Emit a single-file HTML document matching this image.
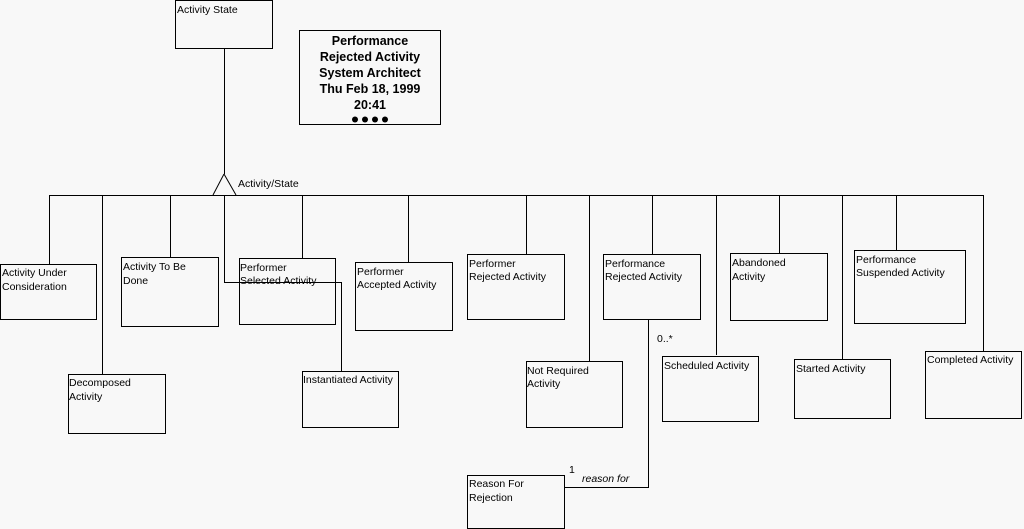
<!DOCTYPE html>
<html><head><meta charset="utf-8"><style>
html,body{margin:0;padding:0;background:#f8f8f8;}
svg{display:block}
text{font-family:"Liberation Sans",sans-serif;font-size:10.5px;fill:#000}
.b{font-weight:bold;font-size:12.5px}
</style></head><body>
<svg width="1024" height="529" viewBox="0 0 1024 529" xmlns="http://www.w3.org/2000/svg">
<g fill="none" stroke="#000" stroke-width="1" shape-rendering="crispEdges">
<rect x="175.5" y="0.5" width="97" height="48"/>
<rect x="299.5" y="30.5" width="141" height="94"/>
<rect x="0.5" y="264.5" width="96" height="55"/>
<rect x="68.5" y="374.5" width="97" height="59"/>
<rect x="121.5" y="257.5" width="97" height="69"/>
<rect x="239.5" y="258.5" width="96" height="66"/>
<rect x="302.5" y="371.5" width="96" height="56"/>
<rect x="355.5" y="262.5" width="97" height="68"/>
<rect x="467.5" y="254.5" width="97" height="65"/>
<rect x="526.5" y="361.5" width="96" height="66"/>
<rect x="603.5" y="254.5" width="97" height="65"/>
<rect x="662.5" y="356.5" width="96" height="65"/>
<rect x="730.5" y="253.5" width="97" height="67"/>
<rect x="794.5" y="359.5" width="96" height="59"/>
<rect x="854.5" y="250.5" width="111" height="73"/>
<rect x="925.5" y="351.5" width="96" height="67"/>
<rect x="467.5" y="475.5" width="97" height="53"/>
<path d="M224.5 48v126M49.5 195.5H983.5M49.5 195v69M102.5 195v179M170.5 195v62M224.5 195v87.5H341.5V371M302.5 195v63M408.5 195v67M526.5 195v59M589.5 195v166M652.5 195v59M716.5 195v160M779.5 195v58M842.5 195v164M896.5 195v55M983.5 195v156M648.5 319v168.5H564"/>
</g>
<path d="M224 174L213 195M224 174L236 195" stroke="#000" fill="none"/>
<text class="b" x="370" y="45" text-anchor="middle">Performance</text>
<text class="b" x="370" y="61" text-anchor="middle">Rejected Activity</text>
<text class="b" x="370" y="77" text-anchor="middle">System Architect</text>
<text class="b" x="370" y="93" text-anchor="middle">Thu Feb 18, 1999</text>
<text class="b" x="370" y="109" text-anchor="middle">20:41</text>
<g fill="#000"><circle cx="355" cy="119.5" r="3"/><circle cx="365" cy="119.5" r="3"/><circle cx="375" cy="119.5" r="3"/><circle cx="385" cy="119.5" r="3"/></g>
<text x="177" y="13">Activity State</text>
<text x="238" y="187">Activity/State</text>
<text x="2" y="276">Activity Under</text><text x="2" y="290">Consideration</text>
<text x="69" y="386">Decomposed</text><text x="69" y="400">Activity</text>
<text x="123" y="270">Activity To Be</text><text x="123" y="284">Done</text>
<text x="240" y="271">Performer</text><text x="240" y="284">Selected Activity</text>
<text x="303" y="383">Instantiated Activity</text>
<text x="357" y="275">Performer</text><text x="357" y="288">Accepted Activity</text>
<text x="469" y="267">Performer</text><text x="469" y="280">Rejected Activity</text>
<text x="527" y="374">Not Required</text><text x="527" y="387">Activity</text>
<text x="605" y="267">Performance</text><text x="605" y="280">Rejected Activity</text>
<text x="664" y="369">Scheduled Activity</text>
<text x="732" y="266">Abandoned</text><text x="732" y="280">Activity</text>
<text x="796" y="372">Started Activity</text>
<text x="856" y="263">Performance</text><text x="856" y="276">Suspended Activity</text>
<text x="927" y="363">Completed Activity</text>
<text x="469" y="487">Reason For</text><text x="469" y="501">Rejection</text>
<text x="657" y="342">0..*</text>
<text x="569" y="473">1</text>
<text x="582" y="482" font-style="italic">reason for</text>
</svg>
</body></html>
